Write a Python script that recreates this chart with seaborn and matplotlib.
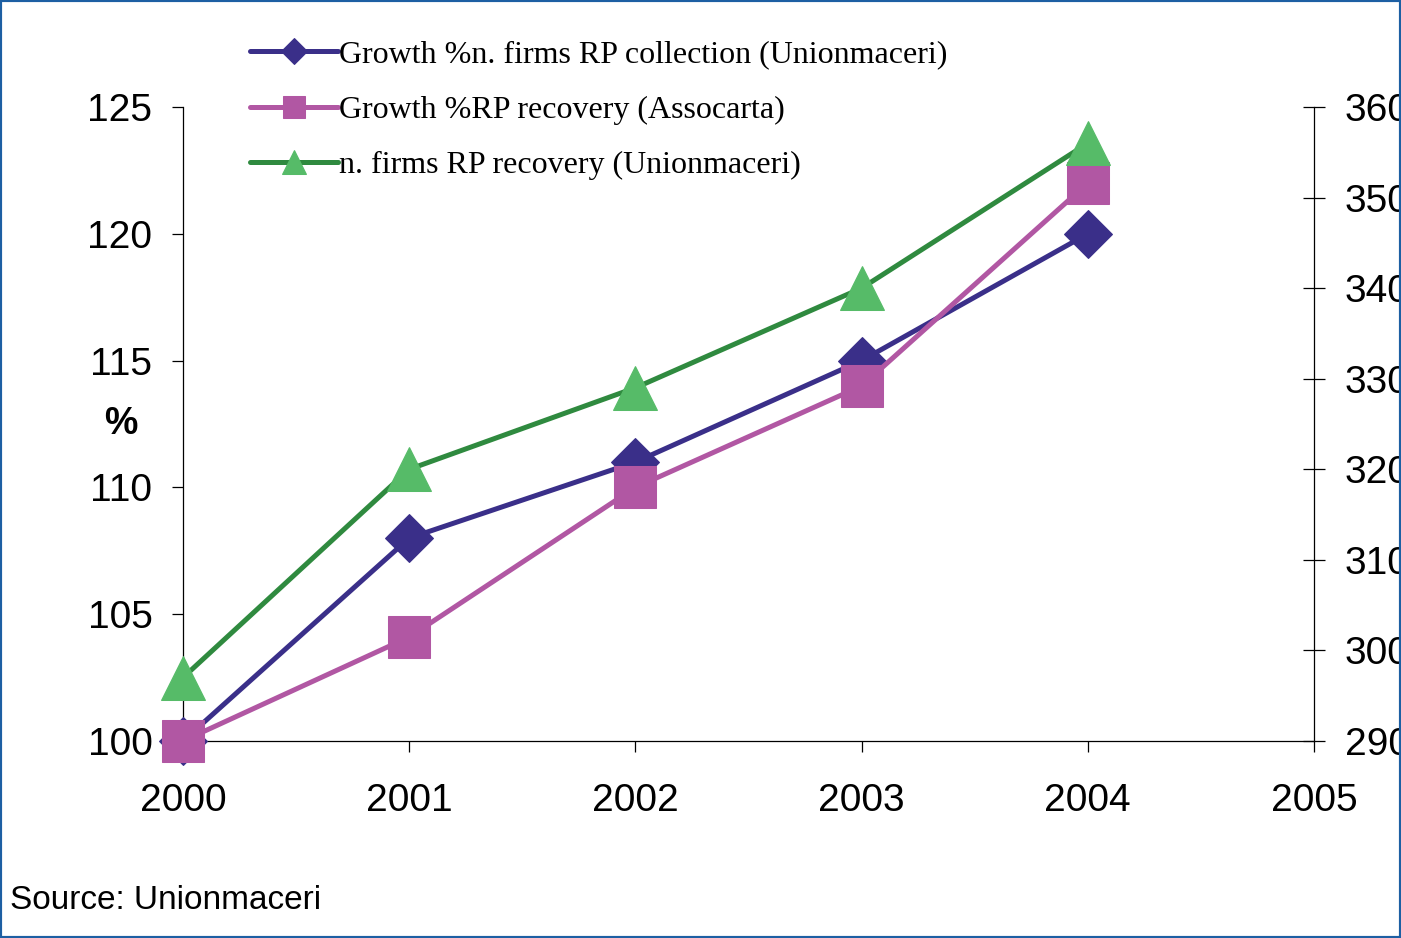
import numpy as np
import pandas as pd
import matplotlib
matplotlib.use("Agg")
import matplotlib.pyplot as plt
import seaborn as sns

# chart values
years = [2000, 2001, 2002, 2003, 2004]
growth_collection = [100, 108, 111, 115, 120]      # left axis, %
growth_recovery = [100, 104.1, 110, 114, 122]      # left axis, %
firms_recovery = [297, 320, 329, 340, 356]         # right axis, n. firms

labels = ["Growth %n. firms RP collection (Unionmaceri)",
          "Growth %RP recovery (Assocarta)",
          "n. firms RP recovery (Unionmaceri)"]

left_ticks = [100, 105, 110, 115, 120, 125]
right_ticks = [290, 300, 310, 320, 330, 340, 350, 360]
x_ticks = [2000, 2001, 2002, 2003, 2004, 2005]

sns.set_style("white")
plt.rcParams['font.family'] = ['Liberation Sans', 'DejaVu Sans']
plt.rcParams['text.color'] = 'black'
plt.rcParams['axes.labelcolor'] = 'black'
plt.rcParams['xtick.color'] = 'black'
plt.rcParams['ytick.color'] = 'black'

blue = "#3a2f89"
pink = "#b157a3"
green_line = "#2f8a3f"
green_mark = "#56bb68"

fig = plt.figure(figsize=(14.01, 9.38), dpi=100)
ax = fig.add_axes([0.1306, 0.21, 0.8073, 0.6759])
ax2 = ax.twinx()

# left axis series
sns.lineplot(x=years, y=growth_collection, ax=ax, color=blue, linewidth=3.6,
             marker="D", markersize=24, markeredgecolor=blue, label=labels[0],
             legend=False, clip_on=False, zorder=3)
sns.lineplot(x=years, y=growth_recovery, ax=ax, color=pink, linewidth=3.6,
             marker="s", markersize=30, markeredgecolor=pink, label=labels[1],
             legend=False, clip_on=False, zorder=4)
# right axis series
sns.lineplot(x=years, y=firms_recovery, ax=ax2, color=green_line, linewidth=3.6,
             marker="^", markersize=32, markerfacecolor=green_mark,
             markeredgecolor=green_mark, label=labels[2], legend=False,
             clip_on=False, zorder=3)

ax.set_xlim(2000, 2005)
ax.set_ylim(100, 125)
ax2.set_ylim(290, 360)
ax.set_xticks(x_ticks)
ax.set_yticks(left_ticks)
ax2.set_yticks(right_ticks)

for a in (ax, ax2):
    a.spines["top"].set_visible(False)
    for s in a.spines.values():
        s.set_color("black")
        s.set_linewidth(0.9)
ax.spines["right"].set_visible(False)
ax2.spines["left"].set_visible(False)
ax2.spines["bottom"].set_visible(False)

ax.tick_params(axis="x", direction="out", length=8, width=0.9, pad=22,
               labelsize=28, bottom=True)
ax.tick_params(axis="y", direction="out", length=8, width=0.9, pad=14,
               labelsize=28, left=True)
ax2.tick_params(axis="y", direction="inout", length=16, width=0.9, pad=14,
                labelsize=28, right=True)

ax.set_ylabel("%", rotation=0, fontsize=27, fontweight="bold", va="center")
ax.yaxis.set_label_coords(-0.055, 0.5)

# legend above everything
handles = ax.get_lines()[:2] + ax2.get_lines()[:1]
leg = ax2.legend(handles, labels, loc="upper left",
                 bbox_to_anchor=(250 / 1401, 1 - 40 / 938),
                 bbox_transform=fig.transFigure, frameon=False,
                 borderaxespad=0, borderpad=0, handlelength=2.75,
                 handletextpad=0.05, labelspacing=0.82, markerscale=0.55,
                 prop={"family": "Liberation Serif", "size": 23})

fig.text(10 / 1401, 1 - 900 / 938, "Source: Unionmaceri", fontsize=24,
         va="center", ha="left")

# outer frame
fig.patches.append(plt.Rectangle((0, 0), 1, 1, transform=fig.transFigure,
                                 fill=False, edgecolor="#1d5fa3", linewidth=3))

fig.savefig("out.png", dpi=100)
